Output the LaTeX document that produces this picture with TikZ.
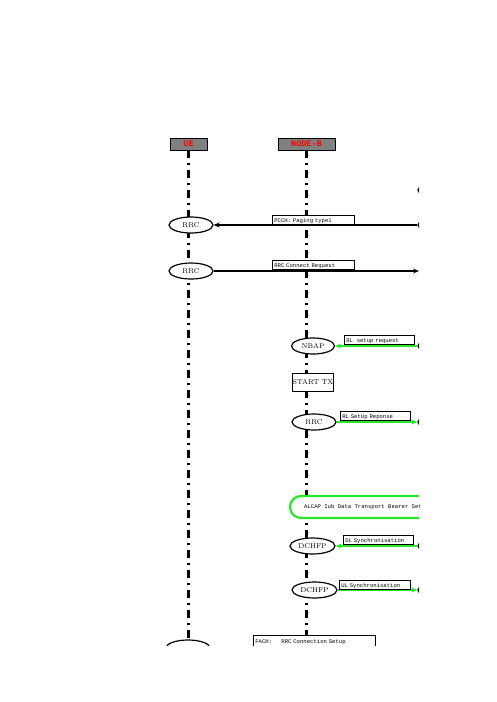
\documentclass[tikz,border=0pt]{standalone}
\usepackage{fontspec}
\setmonofont{Liberation Mono}
\usetikzlibrary{arrows.meta,shapes.geometric}
\definecolor{hdrgray}{RGB}{128,128,128}
\definecolor{msggreen}{RGB}{40,230,40}
\tikzset{
  hdr/.style={draw=black, line width=0.8pt, fill=hdrgray, text=red, font=\ttfamily\bfseries\fontsize{8.5}{8.5}\selectfont, minimum height=12pt, inner sep=0pt},
  life/.style={line width=2.2pt, dash pattern=on 8pt off 5pt on 2pt off 5pt},
  proc/.style={ellipse, draw=black, line width=1.2pt, fill=white, minimum width=44pt, minimum height=16pt, inner sep=0pt, font=\fontsize{7}{7}\selectfont},
  lbl/.style={draw=black, line width=0.6pt, fill=white, anchor=south west, minimum height=9pt, inner xsep=2pt, inner ysep=1pt, text width=#1-4pt, text depth=0pt, align=left, font=\ttfamily\fontsize{5.6}{5.6}\selectfont},
  msgk/.style={line width=1.8pt, draw=black, -{Stealth[length=6pt,width=5pt]}},
  msgg/.style={line width=1.8pt, draw=msggreen, -{Stealth[length=6pt,width=5pt]}},
  box/.style={draw=black, line width=1pt, fill=white, minimum width=40pt, minimum height=18pt, inner sep=0pt, font=\fontsize{7}{7}\selectfont}
}
\begin{document}
\begin{tikzpicture}[x=1pt,y=-1pt]
\useasboundingbox (0,0) rectangle (496,702);
\clip (0,0) rectangle (419,645);
% headers
\node[hdr, minimum width=37pt] (ue) at (188.5,144) {UE};
\node[hdr, minimum width=57pt] (nb) at (306.5,144) {NODE-B};
\coordinate (ueend) at (188.5,660);
\coordinate (nbend) at (306.5,660);
\draw[life] (ue.south) -- (ueend);
\draw[life] (nb.south) -- (nbend);
% right side (clipped) peers
\node[proc] (r0) at (440,190) {};
\node[proc] (r1) at (440,225) {};
\node[proc] (r3) at (440,346) {};
\node[proc] (r4) at (440,422) {};
\node[proc] (r6) at (440,546) {};
\node[proc] (r7) at (440,590) {};
\coordinate (r2) at (419,271);
% row 1
\node[proc] (rrc1) at (191,225) {RRC};
\draw[msgk] (r1.west) -- (rrc1.east);
\node[lbl=82pt] (l1) at (272,225) {PCCH: Paging type1};
% row 2
\node[proc] (rrc2) at (191,271) {RRC};
\draw[msgk] (rrc2.east) -- (r2);
\node[lbl=82pt] (l2) at (272,270) {RRC Connect Request};
% NBAP
\node[proc, minimum width=43pt] (nbap) at (313,346) {NBAP};
\draw[msgg] (r3.west) -- (nbap.east);
\node[lbl=70pt] (l3) at (344,345) {RL\ \ setup request};
% START TX
\node[box] (stx) at (313,382) {START TX};
% RRC at node B
\node[proc] (rrc3) at (314,422) {RRC};
\draw[msgg] (rrc3.east) -- (r4.west);
\node[lbl=70pt] (l4) at (340,421) {RL SetUp Reponse};
% ALCAP
\draw[draw=msggreen, line width=2.2pt, fill=white, rounded corners=11pt] (440,496) -- (290,496) -- (290,518) -- (440,518);
\node[anchor=west, inner sep=0pt, font=\ttfamily\fontsize{5.6}{5.6}\selectfont] (alcap) at (304,507) {ALCAP Iub Data Transport Bearer Setup};
% DCHFP DL
\node[proc, minimum width=45pt] (dch1) at (312.5,546) {DCHFP};
\draw[msgg] (r6.west) -- (dch1.east);
\node[lbl=70pt] (l6) at (343,545) {DL Synchronisation};
% DCHFP UL
\node[proc, minimum width=45pt] (dch2) at (314.5,590) {DCHFP};
\draw[msgg] (dch2.east) -- (r7.west);
\node[lbl=71pt] (l7) at (339,590) {UL Synchronisation};
% bottom
\node[proc, minimum width=44pt] (rrc5) at (188,648) {};
\node[lbl=122pt, anchor=north west, minimum height=12pt] (l8) at (253,635) {FACH:\ \ \ \ \ RRC Connection Setup};
\end{tikzpicture}
\end{document}
